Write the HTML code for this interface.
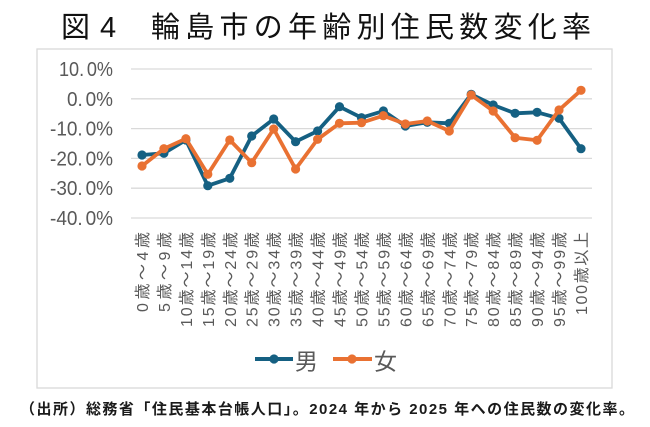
<!DOCTYPE html>
<html>
<head>
<meta charset="utf-8">
<style>
html,body{margin:0;padding:0;background:#fff;}
svg{display:block;}
text{font-family:"Liberation Sans","Noto Sans CJK JP",sans-serif;}
</style>
</head>
<body>
<svg width="650" height="427" viewBox="0 0 650 427" xmlns="http://www.w3.org/2000/svg">
<rect x="0" y="0" width="650" height="427" fill="#fff"/>

<!-- Title -->
<text x="61" y="37" font-size="29" fill="#111">図</text>
<text x="100" y="37" font-size="29" fill="#111">4</text>
<text x="151" y="37" font-size="29" fill="#111" textLength="440" lengthAdjust="spacing">輪島市の年齢別住民数変化率</text>

<!-- Frame -->
<rect x="37" y="49" width="575" height="339" fill="none" stroke="#d9d9d9" stroke-width="1.3"/>

<!-- Gridlines -->
<g stroke="#d9d9d9" stroke-width="1.3">
<line x1="131" y1="69" x2="592" y2="69"/>
<line x1="131" y1="98.8" x2="592" y2="98.8"/>
<line x1="131" y1="128.6" x2="592" y2="128.6"/>
<line x1="131" y1="158.4" x2="592" y2="158.4"/>
<line x1="131" y1="188.2" x2="592" y2="188.2"/>
<line x1="131" y1="218" x2="592" y2="218"/>
</g>

<!-- Y labels -->
<g font-size="20" fill="#595959" text-anchor="end">
<text x="113" y="76" textLength="54" lengthAdjust="spacingAndGlyphs">10.<tspan dx="3">0%</tspan></text>
<text x="113" y="105.8" textLength="46" lengthAdjust="spacingAndGlyphs">0.<tspan dx="3">0%</tspan></text>
<text x="113" y="135.6" textLength="63" lengthAdjust="spacingAndGlyphs">-10.<tspan dx="3">0%</tspan></text>
<text x="113" y="165.4" textLength="63" lengthAdjust="spacingAndGlyphs">-20.<tspan dx="3">0%</tspan></text>
<text x="113" y="195.2" textLength="63" lengthAdjust="spacingAndGlyphs">-30.<tspan dx="3">0%</tspan></text>
<text x="113" y="225" textLength="63" lengthAdjust="spacingAndGlyphs">-40.<tspan dx="3">0%</tspan></text>
</g>

<!-- X labels -->
<g font-size="16" fill="#595959" text-anchor="end">
<text transform="translate(148,232) rotate(-90)" textLength="80" lengthAdjust="spacing">0歳～4歳</text>
<text transform="translate(169.9,232) rotate(-90)" textLength="80" lengthAdjust="spacing">5歳～9歳</text>
<text transform="translate(191.9,232) rotate(-90)" textLength="95" lengthAdjust="spacing">10歳～14歳</text>
<text transform="translate(213.8,232) rotate(-90)" textLength="95" lengthAdjust="spacing">15歳～19歳</text>
<text transform="translate(235.8,232) rotate(-90)" textLength="95" lengthAdjust="spacing">20歳～24歳</text>
<text transform="translate(257.7,232) rotate(-90)" textLength="95" lengthAdjust="spacing">25歳～29歳</text>
<text transform="translate(279.7,232) rotate(-90)" textLength="95" lengthAdjust="spacing">30歳～34歳</text>
<text transform="translate(301.6,232) rotate(-90)" textLength="95" lengthAdjust="spacing">35歳～39歳</text>
<text transform="translate(323.6,232) rotate(-90)" textLength="95" lengthAdjust="spacing">40歳～44歳</text>
<text transform="translate(345.5,232) rotate(-90)" textLength="95" lengthAdjust="spacing">45歳～49歳</text>
<text transform="translate(367.5,232) rotate(-90)" textLength="95" lengthAdjust="spacing">50歳～54歳</text>
<text transform="translate(389.4,232) rotate(-90)" textLength="95" lengthAdjust="spacing">55歳～59歳</text>
<text transform="translate(411.4,232) rotate(-90)" textLength="95" lengthAdjust="spacing">60歳～64歳</text>
<text transform="translate(433.3,232) rotate(-90)" textLength="95" lengthAdjust="spacing">65歳～69歳</text>
<text transform="translate(455.3,232) rotate(-90)" textLength="95" lengthAdjust="spacing">70歳～74歳</text>
<text transform="translate(477.2,232) rotate(-90)" textLength="95" lengthAdjust="spacing">75歳～79歳</text>
<text transform="translate(499.2,232) rotate(-90)" textLength="95" lengthAdjust="spacing">80歳～84歳</text>
<text transform="translate(521.1,232) rotate(-90)" textLength="95" lengthAdjust="spacing">85歳～89歳</text>
<text transform="translate(543.1,232) rotate(-90)" textLength="95" lengthAdjust="spacing">90歳～94歳</text>
<text transform="translate(565,232) rotate(-90)" textLength="95" lengthAdjust="spacing">95歳～99歳</text>
<text transform="translate(587,232) rotate(-90)" textLength="83" lengthAdjust="spacing">100歳以上</text>
</g>

<!-- Male series -->
<g>
<polyline fill="none" stroke="#156082" stroke-width="3.8" stroke-linejoin="round"
 points="142.0,155 163.9,153.3 185.9,140 207.8,185.7 229.8,178.3 251.7,136 273.7,119 295.6,141.7 317.6,131 339.5,106.7 361.5,117.7 383.4,111 405.4,126 427.3,122.3 449.3,123.3 471.2,94.3 493.2,105 515.1,113.3 537.1,112.3 559.0,118.3 581.0,148.7"/>
<g fill="#156082">
<circle cx="142.0" cy="155" r="4.6"/><circle cx="163.9" cy="153.3" r="4.6"/><circle cx="185.9" cy="140" r="4.6"/>
<circle cx="207.8" cy="185.7" r="4.6"/><circle cx="229.8" cy="178.3" r="4.6"/><circle cx="251.7" cy="136" r="4.6"/>
<circle cx="273.7" cy="119" r="4.6"/><circle cx="295.6" cy="141.7" r="4.6"/><circle cx="317.6" cy="131" r="4.6"/>
<circle cx="339.5" cy="106.7" r="4.6"/><circle cx="361.5" cy="117.7" r="4.6"/><circle cx="383.4" cy="111" r="4.6"/>
<circle cx="405.4" cy="126" r="4.6"/><circle cx="427.3" cy="122.3" r="4.6"/><circle cx="449.3" cy="123.3" r="4.6"/>
<circle cx="471.2" cy="94.3" r="4.6"/><circle cx="493.2" cy="105" r="4.6"/><circle cx="515.1" cy="113.3" r="4.6"/>
<circle cx="537.1" cy="112.3" r="4.6"/><circle cx="559.0" cy="118.3" r="4.6"/><circle cx="581.0" cy="148.7" r="4.6"/>
</g>
</g>

<!-- Female series -->
<g>
<polyline fill="none" stroke="#E97132" stroke-width="3.8" stroke-linejoin="round"
 points="142.0,166 163.9,148.7 185.9,138.7 207.8,174.3 229.8,140 251.7,162.7 273.7,129 295.6,169 317.6,139.3 339.5,123.3 361.5,122.7 383.4,115.7 405.4,124 427.3,121 449.3,131 471.2,95 493.2,111 515.1,137.7 537.1,140.3 559.0,110 581.0,90.3"/>
<g fill="#E97132">
<circle cx="142.0" cy="166" r="4.6"/><circle cx="163.9" cy="148.7" r="4.6"/><circle cx="185.9" cy="138.7" r="4.6"/>
<circle cx="207.8" cy="174.3" r="4.6"/><circle cx="229.8" cy="140" r="4.6"/><circle cx="251.7" cy="162.7" r="4.6"/>
<circle cx="273.7" cy="129" r="4.6"/><circle cx="295.6" cy="169" r="4.6"/><circle cx="317.6" cy="139.3" r="4.6"/>
<circle cx="339.5" cy="123.3" r="4.6"/><circle cx="361.5" cy="122.7" r="4.6"/><circle cx="383.4" cy="115.7" r="4.6"/>
<circle cx="405.4" cy="124" r="4.6"/><circle cx="427.3" cy="121" r="4.6"/><circle cx="449.3" cy="131" r="4.6"/>
<circle cx="471.2" cy="95" r="4.6"/><circle cx="493.2" cy="111" r="4.6"/><circle cx="515.1" cy="137.7" r="4.6"/>
<circle cx="537.1" cy="140.3" r="4.6"/><circle cx="559.0" cy="110" r="4.6"/><circle cx="581.0" cy="90.3" r="4.6"/>
</g>
</g>

<!-- Legend -->
<line x1="255" y1="359" x2="293" y2="359" stroke="#156082" stroke-width="4"/>
<circle cx="274" cy="359" r="4.6" fill="#156082"/>
<text x="295" y="369.5" font-size="23" fill="#595959">男</text>
<line x1="333" y1="359" x2="372" y2="359" stroke="#E97132" stroke-width="4"/>
<circle cx="352" cy="359" r="4.6" fill="#E97132"/>
<text x="374" y="369.5" font-size="23" fill="#595959">女</text>

<!-- Footnote -->
<text x="20" y="414" font-size="15" font-weight="bold" fill="#1a1a1a" textLength="614" lengthAdjust="spacing">（出所）総務省「住民基本台帳人口」。2024 年から 2025 年への住民数の変化率。</text>
</svg>
</body>
</html>
